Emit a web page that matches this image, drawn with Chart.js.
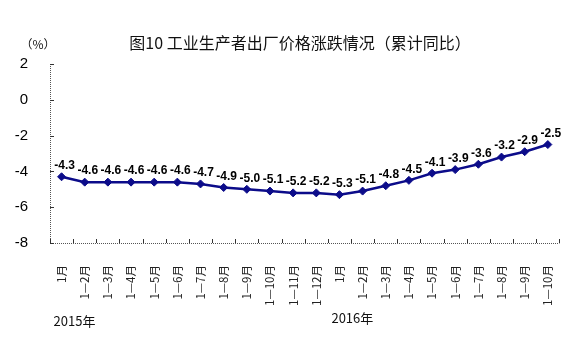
<!DOCTYPE html>
<html>
<head>
<meta charset="utf-8">
<script src="https://cdn.jsdelivr.net/npm/chart.js@4/dist/chart.umd.min.js"></script>
<style>
  html, body { margin: 0; padding: 0; background: #fff; }
  #wrap { width: 576px; height: 345px; position: relative; }
</style>
</head>
<body>
<div id="wrap"><canvas id="c" width="576" height="345"></canvas></div>
<script>
// Cumulative year-on-year change of producer prices (%)
const categories = [
  '1月', '1—2月', '1—3月', '1—4月', '1—5月', '1—6月', '1—7月', '1—8月', '1—9月', '1—10月', '1—11月', '1—12月',
  '1月', '1—2月', '1—3月', '1—4月', '1—5月', '1—6月', '1—7月', '1—8月', '1—9月', '1—10月'
];
const ppiValues = [
  -4.3, -4.6, -4.6, -4.6, -4.6, -4.6, -4.7, -4.9, -5.0, -5.1, -5.2, -5.2,
  -5.3, -5.1, -4.8, -4.5, -4.1, -3.9, -3.6, -3.2, -2.9, -2.5
];
const yTicks = [2, 0, -2, -4, -6, -8];
const yearLabels = [
  { index: 0, text: '2015年' },
  { index: 12, text: '2016年' }
];
const titleText = '图10 工业生产者出厂价格涨跌情况（累计同比）';
const unitText = '（%）';

const LINE_COLOR = '#0c0c8a';
const CJK = '"Noto Sans CJK SC", "Noto Sans", sans-serif';

// Axis frame, inward tick marks, value labels and headings
const decorations = {
  id: 'decorations',
  afterDatasetsDraw(chart) {
    const { ctx, chartArea, scales } = chart;
    const x = scales.x, y = scales.y;
    ctx.save();

    // dotted axis lines
    ctx.strokeStyle = '#555';
    ctx.lineWidth = 1;
    ctx.setLineDash([1, 1]);
    ctx.beginPath();
    ctx.moveTo(chartArea.left + 0.5, chartArea.top);
    ctx.lineTo(chartArea.left + 0.5, chartArea.bottom + 0.5);
    ctx.lineTo(chartArea.right, chartArea.bottom + 0.5);
    ctx.stroke();
    ctx.setLineDash([]);

    // y tick marks pointing inward
    ctx.strokeStyle = '#333';
    yTicks.forEach(v => {
      const py = Math.round(y.getPixelForValue(v)) + 0.5;
      ctx.beginPath();
      ctx.moveTo(chartArea.left, py);
      ctx.lineTo(chartArea.left + 4, py);
      ctx.stroke();
    });

    // x tick marks at category boundaries
    const step = x.getPixelForValue(1) - x.getPixelForValue(0);
    for (let i = 0; i <= categories.length; i++) {
      const px = Math.round(x.getPixelForValue(0) - step / 2 + i * step) + 0.5;
      ctx.beginPath();
      ctx.moveTo(px, chartArea.bottom);
      ctx.lineTo(px, chartArea.bottom - 4);
      ctx.stroke();
    }

    // value labels above the points
    ctx.fillStyle = '#000';
    ctx.font = 'bold 12px Arial, "Liberation Sans", sans-serif';
    ctx.textAlign = 'center';
    ctx.textBaseline = 'bottom';
    const meta = chart.getDatasetMeta(0);
    meta.data.forEach((pt, i) => {
      ctx.fillText(ppiValues[i].toFixed(1), pt.x + 3, pt.y - 5);
    });

    // headings
    ctx.font = '16px ' + CJK;
    ctx.textAlign = 'center';
    ctx.textBaseline = 'middle';
    ctx.fillStyle = '#111';
    ctx.fillText(titleText, 300, 43);
    ctx.font = '12px ' + CJK;
    ctx.fillText(unitText, 38, 44);

    // year labels
    ctx.font = '13px ' + CJK;
    ctx.textAlign = 'left';
    yearLabels.forEach((yl, k) => {
      const px = x.getPixelForValue(yl.index) - 8;
      ctx.fillText(yl.text, px, k === 0 ? 321 : 318);
    });

    ctx.restore();
  }
};

new Chart(document.getElementById('c'), {
  type: 'line',
  data: {
    labels: categories,
    datasets: [{
      data: ppiValues,
      borderColor: LINE_COLOR,
      backgroundColor: LINE_COLOR,
      borderWidth: 2.5,
      pointStyle: 'rectRot',
      pointRadius: 4,
      pointBorderWidth: 1,
      tension: 0
    }]
  },
  options: {
    responsive: false,
    animation: false,
    devicePixelRatio: 1,
    layout: { padding: { top: 64, right: 16, left: 0, bottom: 0 } },
    plugins: { legend: { display: false }, tooltip: { enabled: false } },
    scales: {
      x: {
        offset: true,
        grid: { display: false },
        border: { display: false },
        ticks: {
          minRotation: 90,
          maxRotation: 90,
          autoSkip: false,
          padding: 14,
          color: '#222',
          font: { family: CJK, size: 11.5 }
        },
        afterFit(s) { s.height = 102; }
      },
      y: {
        min: -8,
        max: 2,
        grid: { display: false },
        border: { display: false },
        ticks: {
          stepSize: 2,
          padding: 14,
          color: '#000',
          font: { family: 'Arial, "Liberation Sans", sans-serif', size: 15 }
        },
        afterFit(s) { s.width = 50; }
      }
    }
  },
  plugins: [decorations]
});
</script>
</body>
</html>
